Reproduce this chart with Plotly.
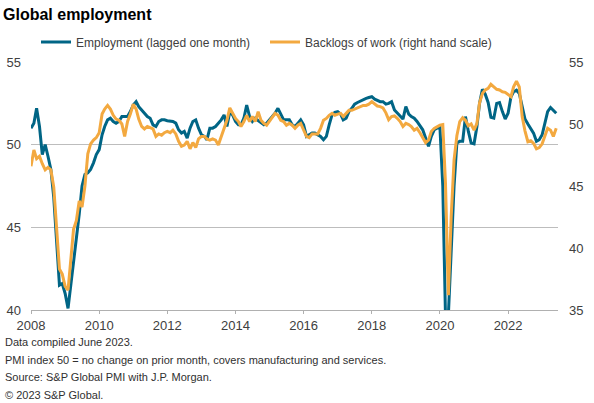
import pandas as pd
import plotly.graph_objects as go

# Monthly data, Jan 2008 - Jun 2023
dates = pd.date_range("2008-01-01", periods=186, freq="MS")

employment = [
    51.0, 51.3, 52.2, 51.1, 49.4, 50.0, 49.3, 48.5, 46.8, 43.8, 41.5, 41.6,   # 2008
    41.0, 40.1, 41.4, 43.0, 44.5, 45.8, 47.5, 48.2, 48.3, 48.5, 48.9, 49.4,   # 2009
    49.7, 50.6, 51.1, 51.5, 51.6, 51.4, 51.3, 51.4, 51.7, 51.7, 51.7, 52.0,   # 2010
    52.4, 52.6, 52.3, 52.1, 51.9, 51.7, 51.6, 51.2, 51.1, 51.4, 51.5, 51.5,   # 2011
    51.45, 51.4, 51.4, 51.3, 50.9, 50.7, 50.8, 50.4, 51.0, 51.4, 51.5, 51.0,  # 2012
    50.6, 50.5, 50.3, 51.0, 51.0, 51.1, 51.3, 51.5, 51.8, 51.1, 52.0, 51.8,   # 2013
    51.4, 51.2, 51.2, 51.6, 52.4, 51.7, 51.4, 51.6, 51.45, 51.35, 51.2, 51.3, # 2014
    51.5, 51.75, 51.9, 52.2, 51.8, 51.5, 51.5, 51.5, 51.2, 51.1, 51.3, 51.5,  # 2015
    51.2, 50.5, 50.6, 50.7, 50.7, 50.6, 50.5, 50.3, 50.5, 51.2, 51.8, 51.95,  # 2016
    52.0, 51.85, 51.5, 51.6, 52.0, 52.2, 52.45, 52.55, 52.65, 52.7, 52.8, 52.85,  # 2017
    52.9, 52.75, 52.7, 52.6, 52.6, 52.45, 52.5, 52.6, 52.1, 51.9, 51.75, 51.55,   # 2018
    52.3, 51.85, 51.7, 51.6, 51.4, 51.15, 50.9, 50.4, 49.9, 50.5, 50.9, 51.0,  # 2019
    51.1, 47.5, 39.6, 39.7, 44.0, 47.5, 50.1, 50.2, 50.2, 51.7, 50.8, 50.1,    # 2020
    50.05, 51.1, 52.5, 53.35, 53.05, 52.55, 51.65, 51.6, 52.5, 52.55, 52.0, 51.55,  # 2021
    51.9, 52.9, 53.2, 53.3, 53.1, 52.25, 51.55, 51.25, 51.0, 50.7, 50.2, 50.3,  # 2022
    50.6, 51.4, 52.0, 52.25, 52.05, 51.9,                                       # 2023
]

backlogs = [
    46.6, 47.9, 47.2, 47.4, 46.8, 46.3, 46.5, 46.3, 44.9, 41.5, 38.3, 37.9,   # 2008
    36.9, 36.6, 39.0, 41.5, 42.2, 43.8, 43.3, 45.0, 47.6, 48.4, 48.7, 48.9,   # 2009
    49.3, 50.8, 51.2, 51.5, 51.2, 50.7, 50.4, 50.3, 50.0, 49.0, 50.2, 50.8,   # 2010
    51.6, 51.2, 50.4, 49.8, 49.6, 49.8, 49.7, 49.6, 49.0, 49.2, 49.1, 49.3,   # 2011
    49.4, 49.3, 49.5, 49.2, 48.6, 48.2, 48.3, 48.6, 48.0, 48.5, 48.1, 48.8,   # 2012
    49.0, 49.0, 48.8, 48.7, 48.8, 48.7, 48.3, 49.0, 49.65, 50.3, 51.3, 50.86, # 2013
    50.45, 50.2, 49.8, 50.2, 50.7, 50.2, 50.6, 50.2, 51.0, 50.3, 50.05, 49.9, # 2014
    50.2, 50.5, 50.86, 50.7, 50.3, 50.2, 49.9, 50.05, 49.9, 49.65, 49.9, 50.05,  # 2015
    49.5, 49.0, 48.9, 49.2, 49.2, 49.2, 49.65, 50.3, 50.45, 50.7, 50.86, 50.7,   # 2016
    50.8, 50.86, 50.6, 50.86, 51.1, 51.1, 51.2, 51.3, 51.4, 51.5, 51.5, 51.6,    # 2017
    51.8, 51.6, 51.45, 51.4, 51.3, 50.9, 50.35, 50.6, 50.65, 50.46, 50.2, 49.8,  # 2018
    50.05, 49.95, 49.8, 49.5, 49.65, 49.3, 48.85, 48.5, 48.7, 49.4, 49.65, 49.8, # 2019
    49.9, 49.95, 45.2, 36.2, 42.5, 47.1, 49.05, 50.2, 50.5, 50.3, 49.85, 50.0,   # 2020
    49.5, 50.05, 51.7, 52.47, 52.74, 52.88, 53.2, 53.0, 52.8, 52.74, 52.6, 52.55,  # 2021
    52.34, 52.2, 53.0, 53.45, 53.0, 50.6, 49.45, 48.57, 48.65, 48.44, 48.0, 48.1,  # 2022
    48.4, 49.1, 49.65, 49.5, 49.0, 49.65,                                          # 2023
]

left_ticks = [40, 45, 50, 55]
right_ticks = [35, 40, 45, 50, 55]
footer_lines = [
    "Data compiled June 2023.",
    "PMI index 50 = no change on prior month, covers manufacturing and services.",
    "Source: S&P Global PMI with J.P. Morgan.",
    "© 2023 S&P Global.",
]

FONT = "Arial, 'Liberation Sans', sans-serif"
TEAL = "#006585"
ORANGE = "#f3a940"
TXT = "#404040"

fig = go.Figure()
fig.add_trace(go.Scatter(x=dates, y=employment, mode="lines",
                         name="Employment (lagged one month)",
                         line=dict(color=TEAL, width=3), yaxis="y"))
fig.add_trace(go.Scatter(x=dates, y=backlogs, mode="lines",
                         name="Backlogs of work (right hand scale)",
                         line=dict(color=ORANGE, width=3), yaxis="y2"))

W, H = 594, 403
PL, PR, PT, PB = 31, 36, 62, 93
PW, PH = W - PL - PR, H - PT - PB

fig.update_layout(
    width=W, height=H,
    margin=dict(l=PL, r=PR, t=PT, b=PB, autoexpand=False),
    paper_bgcolor="white", plot_bgcolor="white",
    font=dict(family=FONT, size=13, color=TXT),
    showlegend=True,
    legend=dict(orientation="h", xref="container", yref="container",
                x=36/W, xanchor="left", y=1 - 42/H, yanchor="middle",
                font=dict(size=12, color=TXT), entrywidth=184, entrywidthmode="pixels",
                itemwidth=30, bgcolor="rgba(0,0,0,0)", traceorder="normal"),
    title=dict(text="<b>Global employment</b>", x=3/W, xanchor="left", xref="container",
               y=1 - 14/H, yanchor="middle", yref="container",
               font=dict(size=16, color="#000000", family=FONT)),
    xaxis=dict(type="date", range=["2008-01-01", "2023-06-20"],
               tick0="2008-01-01", dtick="M24", tickformat="%Y",
               showgrid=False, showline=True, linecolor="#b0b0b0", linewidth=1,
               ticks="outside", ticklen=3, tickcolor="#b0b0b0", automargin=False,
               tickfont=dict(size=13, color=TXT), zeroline=False),
    yaxis=dict(range=[40, 55], tickvals=left_ticks, showgrid=True,
               gridcolor="#bdbdbd", gridwidth=1, zeroline=False, showline=False,
               ticks="", ticklabelstandoff=9, automargin=False,
               tickfont=dict(size=13, color=TXT)),
    yaxis2=dict(range=[35, 55], tickvals=right_ticks, overlaying="y", side="right",
                showgrid=False, zeroline=False, showline=False, ticks="",
                ticklabelstandoff=10, automargin=False,
                tickfont=dict(size=13, color=TXT)),
)

for i, line in enumerate(footer_lines):
    fig.add_annotation(text=line, xref="paper", yref="paper",
                       x=-28/PW, xanchor="left",
                       y=-(342 + 17.7*i - (PT + PH))/PH, yanchor="middle",
                       showarrow=False, font=dict(size=11, color="#303030", family=FONT))

fig.write_html("out.html", config={"displayModeBar": False},
               post_script="document.body.style.margin='0px';")
